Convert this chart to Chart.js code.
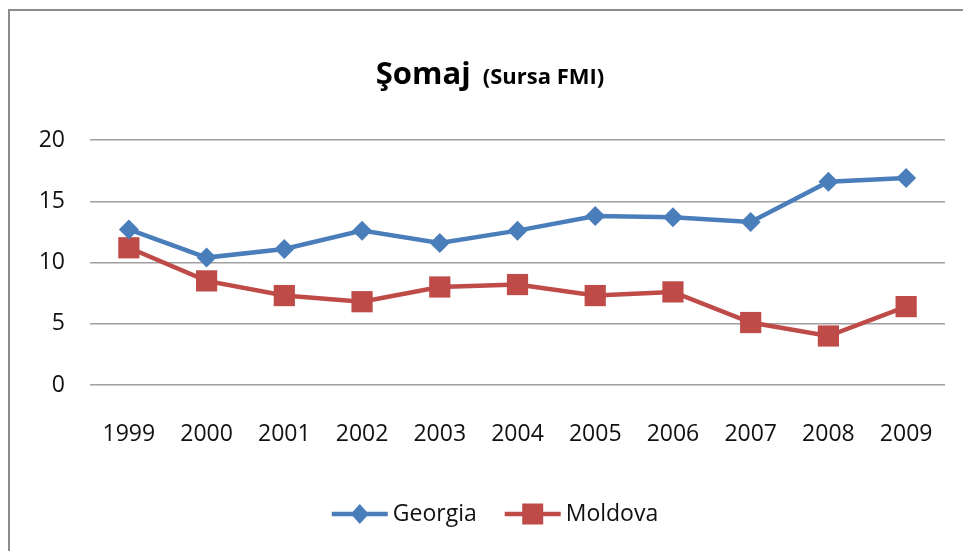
<!DOCTYPE html>
<html>
<head>
<meta charset="utf-8">
<script src="https://cdn.jsdelivr.net/npm/chart.js@4/dist/chart.umd.min.js"></script>
<style>
  html, body { margin: 0; padding: 0; background: #fff; }
  #wrap { position: relative; width: 963px; height: 551px; overflow: hidden; }
  #frame { position: absolute; left: 8px; top: 9px; width: 980px; height: 560px;
           border-top: 2px solid #8c8c8c; border-left: 2px solid #8c8c8c; }
  #chart { position: absolute; left: 0; top: 0; }
</style>
</head>
<body>
<div id="wrap">
  <div id="frame"></div>
  <canvas id="chart" width="963" height="551"></canvas>
</div>
<script>
const years = ['1999', '2000', '2001', '2002', '2003', '2004', '2005', '2006', '2007', '2008', '2009'];
const georgia = [12.7, 10.4, 11.1, 12.6, 11.6, 12.6, 13.8, 13.7, 13.3, 16.6, 16.9];
const moldova = [11.2, 8.5, 7.3, 6.8, 8.0, 8.2, 7.3, 7.6, 5.1, 4.0, 6.4];
const yTicks = [0, 5, 10, 15, 20];

const blue = '#4a7ebb';
const red = '#be4b48';
const fontFamily = "'Open Sans', 'Noto Sans', sans-serif";

// title with two sizes, drawn by hand
const titlePlugin = {
    id: 'twoPartTitle',
    afterDraw(chart) {
        const ctx = chart.ctx;
        ctx.save();
        ctx.fillStyle = '#000';
        ctx.textBaseline = 'alphabetic';
        ctx.font = `bold 31px ${fontFamily}`;
        const mainW = ctx.measureText('Şomaj').width;
        ctx.font = `bold 22px ${fontFamily}`;
        const subW = ctx.measureText('(Sursa FMI)').width;
        const gap = 12;
        let x = 490 - (mainW + gap + subW) / 2;
        ctx.textAlign = 'left';
        ctx.font = `bold 31px ${fontFamily}`;
        ctx.fillText('Şomaj', x, 84);
        ctx.font = `bold 22px ${fontFamily}`;
        ctx.fillText('(Sursa FMI)', x + mainW + gap, 84);
        ctx.restore();
    }
};

// legend with line + marker like the office style
const legendPlugin = {
    id: 'lineLegend',
    afterDraw(chart) {
        const ctx = chart.ctx;
        const y = 514;
        const lineLen = 56;
        ctx.save();
        ctx.font = `23px ${fontFamily}`;
        ctx.textBaseline = 'middle';
        const items = chart.data.datasets.map(ds => ({
            label: ds.label,
            color: ds.borderColor,
            style: ds.pointStyle,
            w: ctx.measureText(ds.label).width
        }));
        const total = items.reduce((s, it) => s + lineLen + 5 + it.w, 0) + 28 * (items.length - 1);
        let x = 495 - total / 2;
        items.forEach(it => {
            ctx.strokeStyle = it.color;
            ctx.fillStyle = it.color;
            ctx.lineWidth = 4.5;
            ctx.beginPath();
            ctx.moveTo(x, y);
            ctx.lineTo(x + lineLen, y);
            ctx.stroke();
            const cx = x + lineLen / 2;
            ctx.beginPath();
            if (it.style === 'rectRot') {
                ctx.moveTo(cx, y - 10);
                ctx.lineTo(cx + 9, y);
                ctx.lineTo(cx, y + 10);
                ctx.lineTo(cx - 9, y);
                ctx.closePath();
            } else {
                ctx.rect(cx - 10.5, y - 10.5, 21, 21);
            }
            ctx.fill();
            ctx.fillStyle = '#111';
            ctx.fillText(it.label, x + lineLen + 5, y);
            x += lineLen + 5 + it.w + 28;
        });
        ctx.restore();
    }
};

new Chart(document.getElementById('chart').getContext('2d'), {
    type: 'line',
    data: {
        labels: years,
        datasets: [{
            label: 'Georgia',
            data: georgia,
            borderColor: blue,
            backgroundColor: blue,
            borderWidth: 4.5,
            pointStyle: 'rectRot',
            pointRadius: 10,
            pointBorderWidth: 0,
            tension: 0
        }, {
            label: 'Moldova',
            data: moldova,
            borderColor: red,
            backgroundColor: red,
            borderWidth: 4.5,
            pointStyle: 'rect',
            pointRadius: 15,
            pointBorderWidth: 0,
            tension: 0
        }]
    },
    options: {
        responsive: false,
        animation: false,
        layout: { padding: { left: 0, right: 18, top: 140, bottom: 106 } },
        plugins: {
            legend: { display: false },
            title: { display: false },
            tooltip: { enabled: false }
        },
        scales: {
            x: {
                offset: true,
                grid: { display: false, drawTicks: false },
                border: { display: false },
                ticks: { color: '#111', padding: 36, font: { family: fontFamily, size: 23 }, maxRotation: 0 },
                afterFit: scale => {
                    scale.height = 60;
                    scale.paddingLeft = 0;
                    scale.paddingRight = 0;
                }
            },
            y: {
                min: 0,
                max: 20,
                afterBuildTicks: scale => { scale.ticks = yTicks.map(v => ({ value: v })); },
                grid: { color: '#a0a0a0', lineWidth: 1.5, drawTicks: false },
                border: { display: false },
                ticks: { color: '#111', padding: 25, font: { family: fontFamily, size: 23 } },
                afterFit: scale => { scale.width = 90; }
            }
        }
    },
    plugins: [titlePlugin, legendPlugin]
});
</script>
</body>
</html>
